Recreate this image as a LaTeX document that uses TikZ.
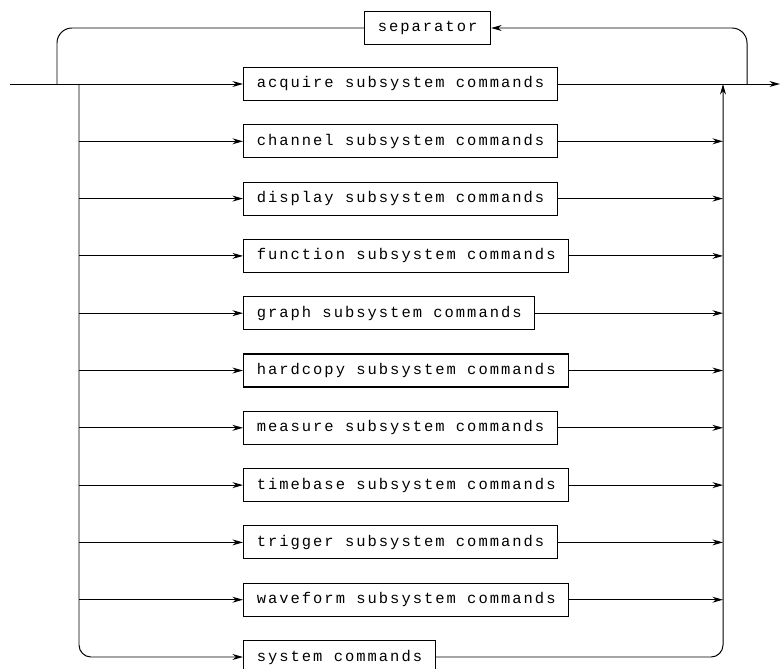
\documentclass[tikz,border=0pt]{standalone}
\usepackage{fontspec}
\newfontfamily\plotfont[LetterSpace=13]{Liberation Mono}
\usetikzlibrary{arrows.meta}
\tikzset{
  cmdbox/.style={draw,line width=0.8pt,anchor=west,minimum height=0.825cm,inner xsep=0.33cm,font=\plotfont\fontsize{11}{13}\selectfont},
  flow/.style={line width=0.7pt},
  flowarrow/.style={flow,-{Stealth[length=7.5pt,width=4.2pt]}},
}
\begin{document}
\begin{tikzpicture}
\useasboundingbox (0.000,0.000) rectangle (19.575,-16.725);
% command boxes
\node[cmdbox] (sep) at (9.100,-0.700) {separator};
\node[cmdbox] (acq) at (6.075,-2.100) {acquire subsystem commands};
\node[cmdbox] (chn) at (6.075,-3.533) {channel subsystem commands};
\node[cmdbox] (dsp) at (6.075,-4.965) {display subsystem commands};
\node[cmdbox] (fun) at (6.075,-6.398) {function subsystem commands};
\node[cmdbox] (gra) at (6.075,-7.830) {graph subsystem commands};
\node[cmdbox] (hcp) at (6.075,-9.263) {hardcopy subsystem commands};
\node[cmdbox] (mea) at (6.075,-10.695) {measure subsystem commands};
\node[cmdbox] (tim) at (6.075,-12.128) {timebase subsystem commands};
\node[cmdbox] (trg) at (6.075,-13.560) {trigger subsystem commands};
\node[cmdbox] (wav) at (6.075,-14.993) {waveform subsystem commands};
\node[cmdbox] (sys) at (6.075,-16.425) {system commands};
% junctions on the main line
\coordinate (in) at (0.250,-2.100);
\coordinate (out) at (19.500,-2.100);
\coordinate (busL) at (1.975,-2.100);
\coordinate (busR) at (18.075,-2.100);
\coordinate (loopL) at (1.425,-2.100);
\coordinate (loopR) at (18.675,-2.100);
% main line and separator loop
\draw[flowarrow] (in) -- (acq.west);
\draw[flowarrow] (acq.east) -- (out);
\draw[flowarrow,rounded corners=0.375cm] (loopR) |- (sep.east);
\draw[flow,rounded corners=0.375cm] (sep.west) -| (loopL);
% left bus
\draw[flowarrow,rounded corners=0.3cm] (busL) |- (sys.west);
\draw[flowarrow] (busL |- chn.west) -- (chn.west);
\draw[flowarrow] (busL |- dsp.west) -- (dsp.west);
\draw[flowarrow] (busL |- fun.west) -- (fun.west);
\draw[flowarrow] (busL |- gra.west) -- (gra.west);
\draw[flowarrow] (busL |- hcp.west) -- (hcp.west);
\draw[flowarrow] (busL |- mea.west) -- (mea.west);
\draw[flowarrow] (busL |- tim.west) -- (tim.west);
\draw[flowarrow] (busL |- trg.west) -- (trg.west);
\draw[flowarrow] (busL |- wav.west) -- (wav.west);
% right bus
\draw[flowarrow,rounded corners=0.3cm] (sys.east) -| (busR);
\draw[flowarrow] (chn.east) -- (busR |- chn.east);
\draw[flowarrow] (dsp.east) -- (busR |- dsp.east);
\draw[flowarrow] (fun.east) -- (busR |- fun.east);
\draw[flowarrow] (gra.east) -- (busR |- gra.east);
\draw[flowarrow] (hcp.east) -- (busR |- hcp.east);
\draw[flowarrow] (mea.east) -- (busR |- mea.east);
\draw[flowarrow] (tim.east) -- (busR |- tim.east);
\draw[flowarrow] (trg.east) -- (busR |- trg.east);
\draw[flowarrow] (wav.east) -- (busR |- wav.east);
\end{tikzpicture}
\end{document}
